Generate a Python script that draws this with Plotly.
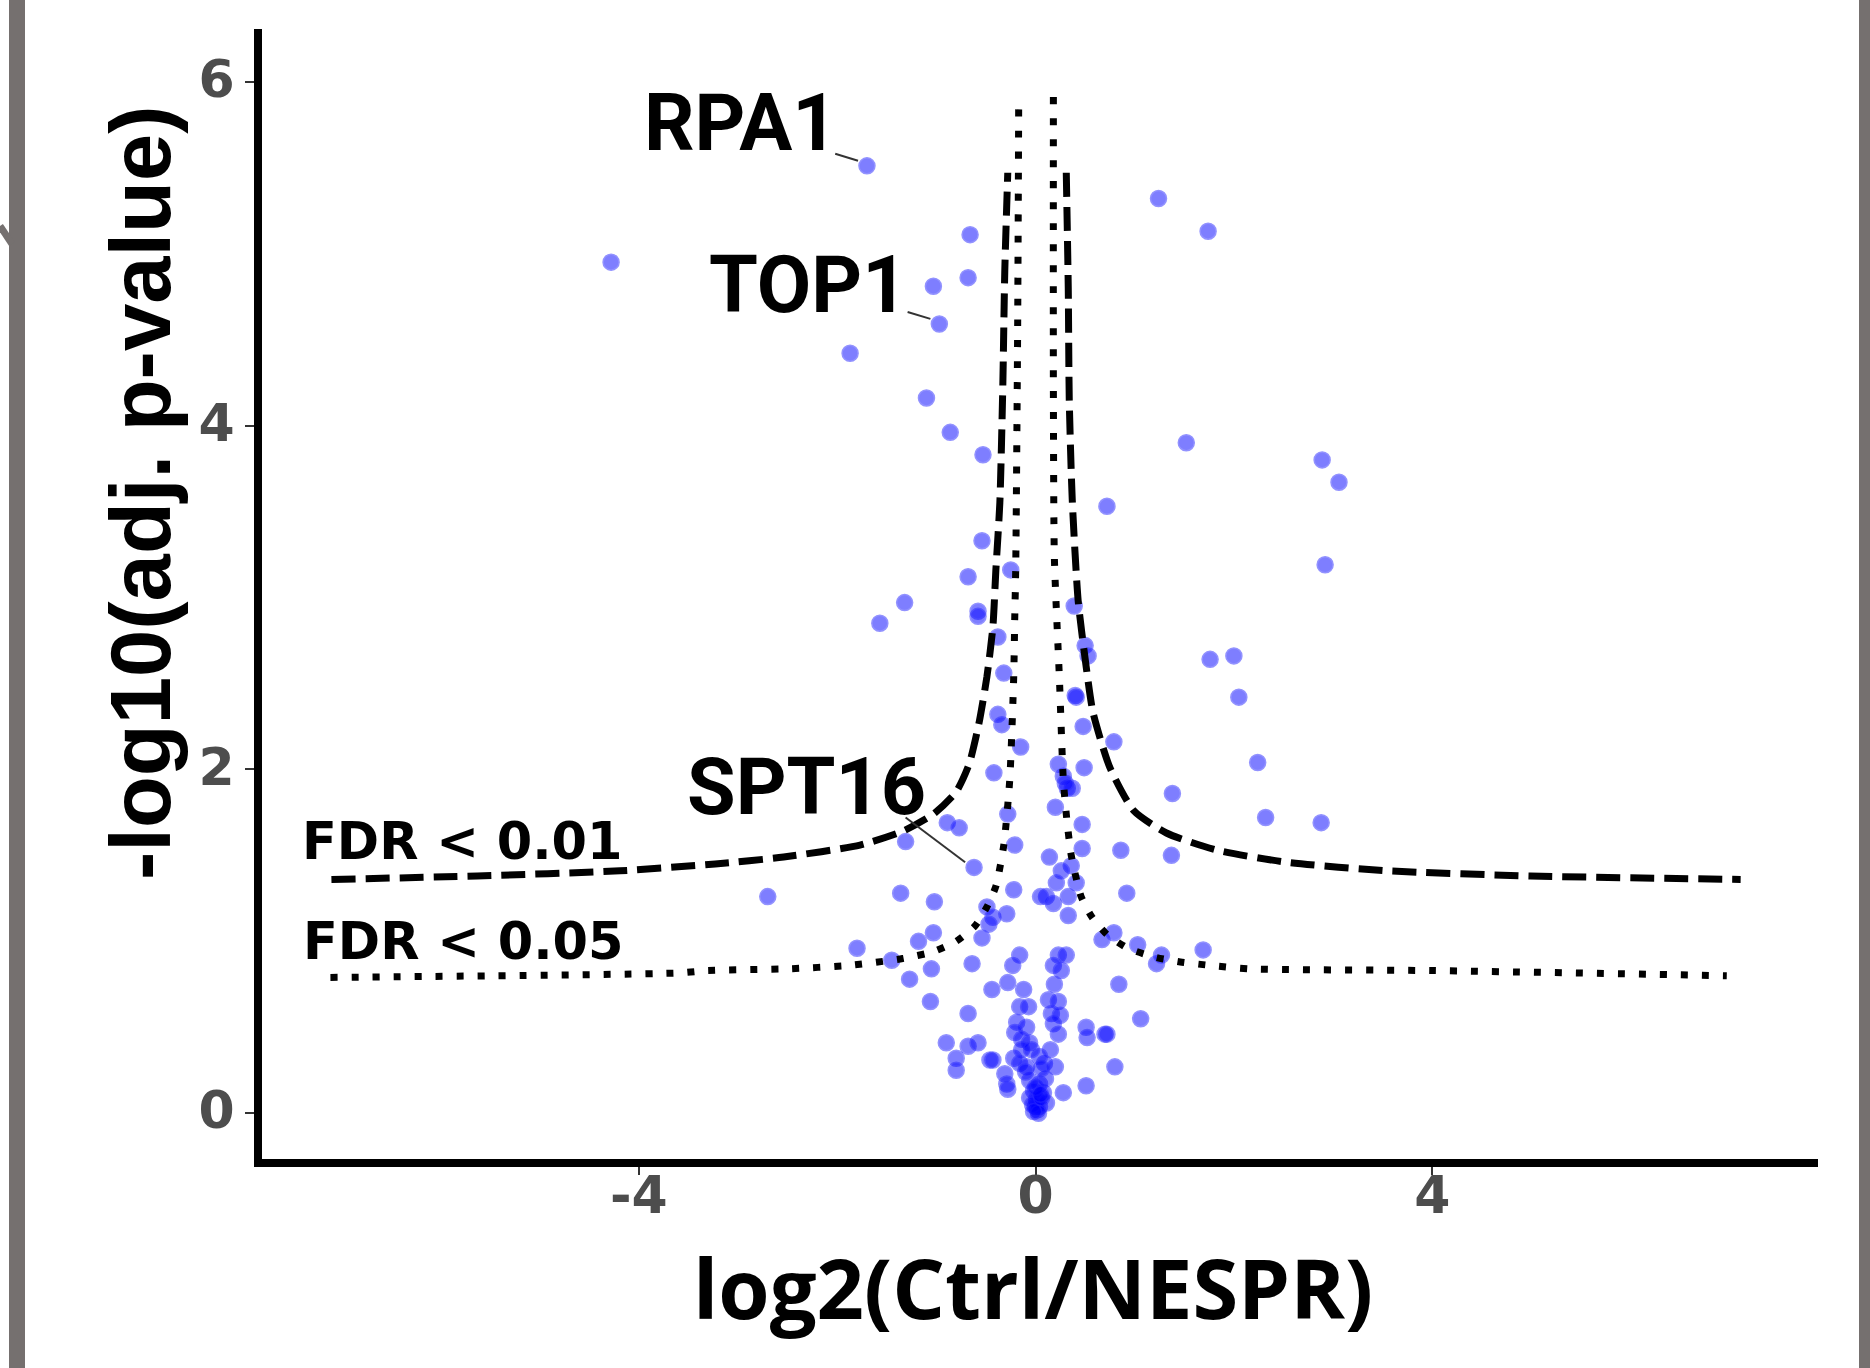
import plotly.graph_objects as go

W, H = 1870, 1368

# ---------------- data ----------------
log2_fc = [
    -1.70, -4.28, -0.66, -1.03, -0.68, -0.97, -1.87, -1.10, -0.86, -0.53,
    1.24, 1.74, 1.52, 2.89, 3.06, 0.72, 2.92, -0.54, -0.25, -0.68,
    -1.32, -1.57, -0.58, -0.58, 0.39, -0.38, 0.50, 0.53, 1.76, 2.00,
    -0.32, 2.05, 0.40, 0.41, -0.38, -0.34, 0.48, -0.15, 0.79, 2.24,
    0.23, 0.49, 0.28, 0.32, 0.37, 0.30, -0.42, 1.38, 0.20, -0.28,
    0.47, 2.32, 2.88, -0.89, -0.77, -1.31, -0.62, -0.21, 0.47, 0.86,
    1.37, 0.14, 0.36, 0.26, 0.41, 0.21, 0.11, 0.18, 0.33, 0.33,
    -0.22, 0.92, -2.70, -1.36, -1.02, -0.49, -0.43, -0.29, -1.03, -1.18,
    -0.54, -0.47, -1.80, 0.67, 0.79, 1.03, 1.22, 1.27, 1.69, -1.05,
    -1.45, -1.27, -0.64, -0.16, -0.23, 0.23, 0.31, 0.18, 0.26, 0.19,
    0.84, -1.06, -0.44, -0.28, -0.12, -0.68, 0.13, 0.23, 0.16, 0.25,
    0.18, 0.23, -0.16, -0.07, -0.19, -0.09, -0.21, -0.14, -0.06, 1.06,
    0.51, 0.52, 0.70, 0.72, -0.90, -0.68, -0.58, -0.80, -0.80, -0.46,
    -0.43, -0.22, 0.80, -0.31, -0.29, -0.28, 0.15, 0.09, 0.20, 0.04,
    0.28, 0.51, -0.14, -0.04, -0.16, -0.09, -0.06, 0.04, -0.02, 0.08,
    0.01, 0.00, 0.04, -0.06, 0.11, 0.02, -0.03, 0.06, 0.00, 0.10,
    -0.10, 0.06, 0.03, -0.02, 0.05, 0.05,
]
neg_log10_p = [
    5.51, 4.95, 5.11, 4.81, 4.86, 4.59, 4.42, 4.16, 3.96, 3.83,
    5.32, 5.13, 3.90, 3.80, 3.67, 3.53, 3.19, 3.33, 3.16, 3.12,
    2.97, 2.85, 2.92, 2.89, 2.95, 2.77, 2.72, 2.66, 2.64, 2.66,
    2.56, 2.42, 2.43, 2.42, 2.32, 2.26, 2.25, 2.13, 2.16, 2.04,
    2.03, 2.01, 1.96, 1.89, 1.89, 1.92, 1.98, 1.86, 1.78, 1.74,
    1.68, 1.72, 1.69, 1.69, 1.66, 1.58, 1.43, 1.56, 1.54, 1.53,
    1.50, 1.49, 1.44, 1.41, 1.34, 1.34, 1.26, 1.22, 1.26, 1.15,
    1.30, 1.28, 1.26, 1.28, 1.23, 1.20, 1.14, 1.16, 1.05, 1.00,
    1.02, 1.10, 0.96, 1.01, 1.05, 0.98, 0.87, 0.92, 0.95, 0.84,
    0.89, 0.78, 0.87, 0.92, 0.86, 0.92, 0.92, 0.86, 0.83, 0.75,
    0.75, 0.65, 0.72, 0.76, 0.72, 0.58, 0.66, 0.65, 0.58, 0.57,
    0.52, 0.46, 0.62, 0.62, 0.53, 0.50, 0.47, 0.43, 0.41, 0.55,
    0.50, 0.44, 0.46, 0.46, 0.41, 0.39, 0.41, 0.32, 0.25, 0.31,
    0.31, 0.32, 0.27, 0.23, 0.17, 0.14, 0.37, 0.29, 0.27, 0.33,
    0.12, 0.16, 0.37, 0.37, 0.29, 0.27, 0.19, 0.17, 0.13, 0.12,
    0.08, 0.04, 0.04, 0.09, 0.06, 0.02, 0.05, 0.09, 0.15, 0.20,
    0.24, 0.26, 0.00, 0.01, 0.11, 1.26,
]

# threshold curves
fdr01_left_x = [-7.10, -5.63, -4.19, -3.23, -2.54, -1.77, -1.34, -1.03, -0.80,
                -0.67, -0.57, -0.49, -0.43, -0.40, -0.36, -0.33, -0.31, -0.28]
fdr01_left_y = [1.36, 1.38, 1.41, 1.45, 1.49, 1.56, 1.64, 1.74, 1.87,
                2.03, 2.27, 2.54, 2.83, 3.16, 3.55, 4.23, 4.90, 5.47]
fdr01_right_x = [0.31, 0.33, 0.34, 0.37, 0.43, 0.51, 0.58, 0.75, 0.99, 1.32,
                 1.83, 2.53, 3.55, 4.99, 7.11]
fdr01_right_y = [5.47, 4.80, 4.15, 3.57, 2.98, 2.60, 2.33, 2.01, 1.76, 1.63,
                 1.53, 1.46, 1.41, 1.38, 1.36]
fdr05_left_x = [-7.11, -3.60, -3.31, -2.50, -1.88, -1.34, -1.03, -0.80, -0.61, -0.49,
                -0.40, -0.32, -0.26, -0.22, -0.21, -0.20, -0.18, -0.17]
fdr05_left_y = [0.79, 0.816, 0.83, 0.84, 0.86, 0.90, 0.94, 1.00, 1.09, 1.20,
                1.32, 1.56, 1.94, 2.54, 2.87, 3.16, 4.60, 5.86]
fdr05_right_x = [0.18, 0.18, 0.19, 0.24, 0.28, 0.31, 0.36, 0.46, 0.57, 0.72,
                 0.93, 1.19, 1.46, 1.76, 2.16, 3.99, 6.97]
fdr05_right_y = [5.91, 4.20, 3.23, 2.54, 1.94, 1.74, 1.50, 1.26, 1.14, 1.04,
                 0.96, 0.91, 0.88, 0.86, 0.84, 0.83, 0.80]

x_ticks = [-4, 0, 4]
y_ticks = [0, 2, 4, 6]

gene_labels = ["RPA1", "TOP1", "SPT16"]
gene_index = [0, 5, 56]
# label centres (pixels) and leader-line start (data units)
label_px = [(741, 123), (808, 285), (806, 787)]
leader_start = [(-2.02, 5.58), (-1.29, 4.66), (-1.31, 1.72)]

# ---------------- layout geometry ----------------
PL, PR, PT, PB = 262, 1818, 29, 1159
def px(x):
    return x / W
def py(y):
    return 1 - y / H

fig = go.Figure()

fig.add_trace(go.Scatter(
    x=log2_fc, y=neg_log10_p, mode="markers",
    marker=dict(size=16, color="rgb(0,0,255)", opacity=0.5,
                line=dict(color="rgb(40,40,255)", width=1.5)),
    showlegend=False, hoverinfo="skip"))

dash_style = dict(color="black", width=7, dash="24px,10px")
dot_style = dict(color="black", width=7, dash="7px,14px")
for xs, ys, st in [(fdr01_left_x, fdr01_left_y, dash_style),
                   (fdr01_right_x, fdr01_right_y, dash_style),
                   (fdr05_left_x, fdr05_left_y, dot_style),
                   (fdr05_right_x, fdr05_right_y, dot_style)]:
    fig.add_trace(go.Scatter(x=xs, y=ys, mode="lines",
                             line=dict(shape="spline", smoothing=0.6, **st),
                             showlegend=False, hoverinfo="skip"))

annotations = []
shapes = []
label_font = dict(family="Roboto", size=79, color="black", weight=700)
for name, idx, (lx, ly), (sx, sy) in zip(gene_labels, gene_index, label_px, leader_start):
    annotations.append(dict(text=name, xref="paper", yref="paper",
                            x=px(lx), y=py(ly), showarrow=False,
                            xanchor="center", yanchor="middle", font=label_font))
    tx, ty = log2_fc[idx], neg_log10_p[idx]
    ex = tx - 0.09 * (tx - sx) / (abs(tx - sx) + 1e-9)
    ey = ty + 0.03 * (sy - ty) / (abs(sy - ty) + 1e-9)
    shapes.append(dict(type="line", xref="x", yref="y", x0=sx, y0=sy, x1=ex, y1=ey,
                       line=dict(color="#333333", width=2)))

fdr_font = dict(family="DejaVu Sans", size=51, color="black", weight=700)
annotations.append(dict(text="FDR < 0.01", xref="paper", yref="paper", x=px(462), y=py(841),
                        showarrow=False, xanchor="center", yanchor="middle", font=fdr_font))
annotations.append(dict(text="FDR < 0.05", xref="paper", yref="paper", x=px(463), y=py(941),
                        showarrow=False, xanchor="center", yanchor="middle", font=fdr_font))

annotations.append(dict(text="log2(Ctrl/NESPR)", xref="paper", yref="paper",
                        x=px(1033), y=py(1286), showarrow=False,
                        xanchor="center", yanchor="middle",
                        font=dict(family="Open Sans", size=83, color="black", weight=700)))
annotations.append(dict(text="-log10(adj. p-value)", xref="paper", yref="paper",
                        x=px(140), y=py(493), showarrow=False, textangle=-90,
                        xanchor="center", yanchor="middle",
                        font=dict(family="Liberation Sans", size=85, color="black", weight=700)))

# grey frame pieces at the picture's sides
grey = "#75706f"
shapes.append(dict(type="rect", xref="paper", yref="paper", x0=px(9), x1=px(25), y0=0, y1=1,
                   fillcolor=grey, line=dict(width=0), layer="below"))
shapes.append(dict(type="rect", xref="paper", yref="paper", x0=px(1859), x1=1.0, y0=0, y1=1,
                   fillcolor=grey, line=dict(width=0), layer="below"))
shapes.append(dict(type="line", xref="paper", yref="paper", x0=px(0), y0=py(226),
                   x1=px(12), y1=py(244), line=dict(color=grey, width=7)))

tick_font = dict(family="DejaVu Sans", size=52, color="#4d4d4d", weight=700)
fig.update_layout(
    width=W, height=H, margin=dict(l=0, r=0, t=0, b=0),
    paper_bgcolor="white", plot_bgcolor="white",
    annotations=annotations, shapes=shapes,
    xaxis=dict(domain=[px(PL), px(PR)], range=[-7.80, 7.89],
               showline=True, linewidth=8, linecolor="black",
               ticks="outside", ticklen=8, tickwidth=2, tickcolor="#333333",
               tickvals=x_ticks, ticktext=[str(v) for v in x_ticks],
               tickfont=tick_font, ticklabelstandoff=-24,
               showgrid=False, zeroline=False),
    yaxis=dict(domain=[py(PB), py(PT)], range=[-0.266, 6.306],
               showline=True, linewidth=8, linecolor="black",
               ticks="outside", ticklen=9, tickwidth=2, tickcolor="#333333",
               tickvals=y_ticks, ticktext=[str(v) for v in y_ticks],
               tickfont=tick_font, ticklabelshift=-3,
               showgrid=False, zeroline=False),
)

fig.write_html("out.html")
